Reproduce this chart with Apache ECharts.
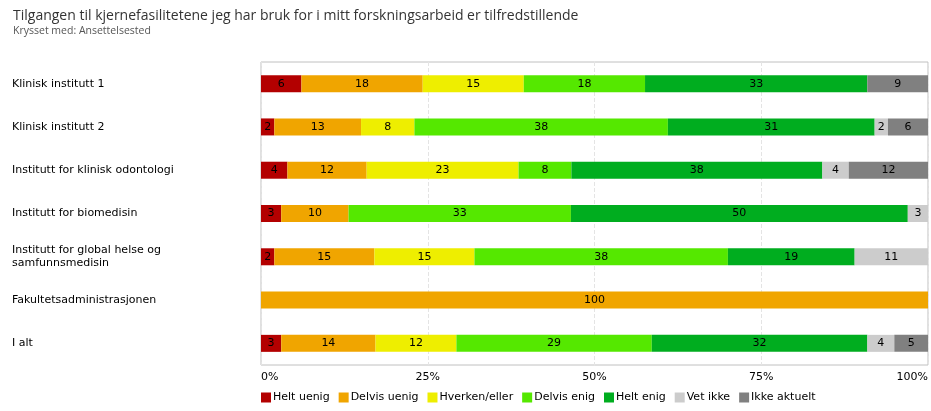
<!DOCTYPE html>
<html>
<head>
<meta charset="utf-8">
<script src="https://cdn.jsdelivr.net/npm/echarts@6/dist/echarts.min.js"></script>
<style>
html,body{margin:0;padding:0;background:#fff;}
#c{width:931px;height:411px;}
</style>
</head>
<body>
<div id="c"></div>
<script>
var categories = [
  "Klinisk institutt 1",
  "Klinisk institutt 2",
  "Institutt for klinisk odontologi",
  "Institutt for biomedisin",
  "Institutt for global helse og samfunnsmedisin",
  "Fakultetsadministrasjonen",
  "I alt"
];
var seriesNames = ["Helt uenig","Delvis uenig","Hverken/eller","Delvis enig","Helt enig","Vet ikke","Ikke aktuelt"];
var heltUenig   = [6, 2, 4, 3, 2, 0, 3];
var delvisUenig = [18, 13, 12, 10, 15, 100, 14];
var hverken     = [15, 8, 23, 0, 15, 0, 12];
var delvisEnig  = [18, 38, 8, 33, 38, 0, 29];
var heltEnig    = [33, 31, 38, 50, 19, 0, 32];
var vetIkke     = [0, 2, 4, 3, 11, 0, 4];
var ikkeAktuelt = [9, 6, 12, 0, 0, 0, 5];
var xTicks = [0, 25, 50, 75, 100];

var allValues = [heltUenig, delvisUenig, hverken, delvisEnig, heltEnig, vetIkke, ikkeAktuelt];
var colors = ["#b30000", "#f0a500", "#eeee00", "#55e800", "#00ad1f", "#cccccc", "#808080"];

// Row totals (rounded percentages may not sum to exactly 100); bars are scaled to fill 100%.
var rowSums = categories.map(function (_, i) {
  return allValues.reduce(function (s, arr) { return s + arr[i]; }, 0);
});

var series = seriesNames.map(function (name, k) {
  return {
    name: name,
    type: 'bar',
    stack: 'total',
    barWidth: 17,
    itemStyle: { color: colors[k] },
    label: {
      show: true,
      position: 'inside',
      color: '#000',
      fontFamily: 'DejaVu Sans',
      fontSize: 11,
      formatter: function (p) { return p.data.raw > 0 ? String(p.data.raw) : ''; }
    },
    emphasis: { disabled: true },
    data: allValues[k].map(function (v, i) {
      return { value: v / rowSums[i] * 100, raw: v };
    })
  };
});

var chart = echarts.init(document.getElementById('c'), null, { renderer: 'canvas' });
chart.setOption({
  animation: false,
  title: {
    text: 'Tilgangen til kjernefasilitetene jeg har bruk for i mitt forskningsarbeid er tilfredstillende',
    subtext: 'Krysset med: Ansettelsested',
    left: 8,
    top: 4,
    itemGap: 3,
    textStyle: { fontFamily: 'Open Sans', fontSize: 14, fontWeight: 'normal', color: '#333' },
    subtextStyle: { fontFamily: 'Open Sans', fontSize: 10.5, color: '#555' }
  },
  legend: {
    data: seriesNames,
    left: 256,
    top: 387,
    icon: 'rect',
    itemWidth: 10,
    itemHeight: 10,
    itemGap: 9,
    textStyle: { fontFamily: 'DejaVu Sans', fontSize: 11, color: '#000', padding: [0, 0, 0, -3] }
  },
  grid: {
    left: 261, right: 3, top: 62, bottom: 46,
    show: true, borderColor: '#c0c0c0', borderWidth: 1,
    containLabel: false
  },
  xAxis: {
    type: 'value',
    min: 0, max: 100, interval: 25,
    axisLine: { show: false },
    axisTick: { show: false },
    splitLine: { show: true, lineStyle: { color: '#e4e4e4', type: 'dashed' } },
    axisLabel: {
      formatter: function (v) { return xTicks.indexOf(v) >= 0 ? v + '%' : ''; },
      fontFamily: 'DejaVu Sans', fontSize: 11, color: '#000',
      margin: 7,
      alignMinLabel: 'left', alignMaxLabel: 'right'
    }
  },
  yAxis: {
    type: 'category',
    data: categories,
    inverse: true,
    axisLine: { show: false },
    axisTick: { show: false },
    axisLabel: {
      align: 'left',
      margin: 249,
      width: 185,
      overflow: 'break',
      lineHeight: 13,
      fontFamily: 'DejaVu Sans', fontSize: 11, color: '#000'
    }
  },
  series: series
});
</script>
</body>
</html>
